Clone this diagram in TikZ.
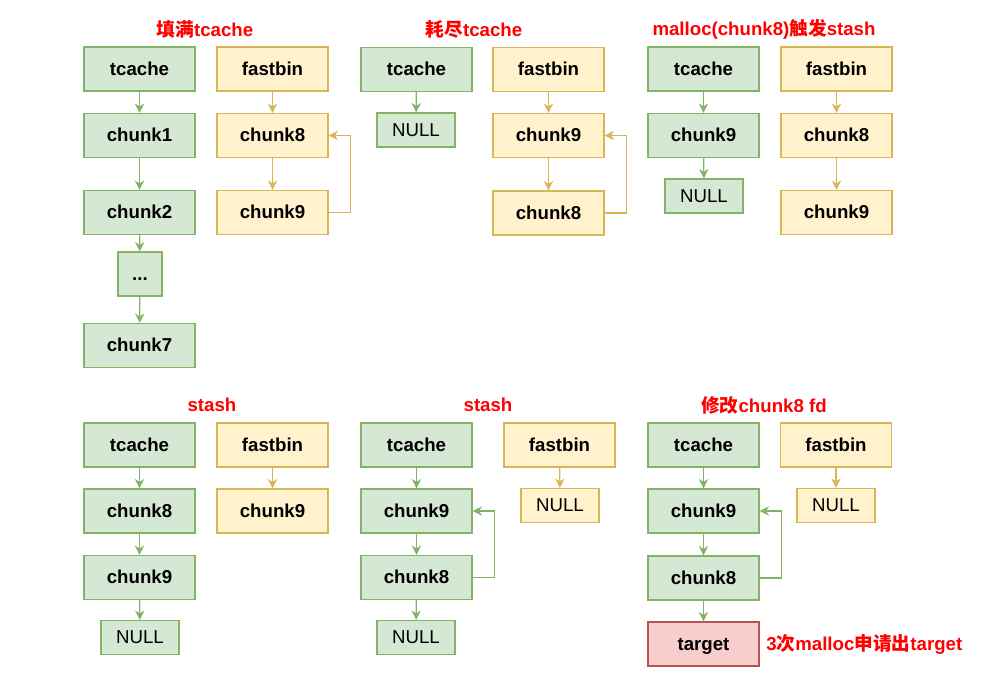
\documentclass[tikz,border=0pt]{standalone}
\usepackage{fontspec}
\setmainfont{Liberation Sans}
\newfontfamily\cjk{Noto Sans CJK SC}
\usetikzlibrary{arrows.meta}
\definecolor{gfill}{HTML}{D5E8D4}
\definecolor{gline}{HTML}{82B366}
\definecolor{yfill}{HTML}{FFF2CC}
\definecolor{yline}{HTML}{D6B656}
\definecolor{rfill}{HTML}{F8CECC}
\definecolor{rline}{HTML}{B85450}
\definecolor{ttl}{HTML}{FF0000}
\tikzset{
  box/.style={draw, line width=1pt, inner sep=0pt, minimum width=83.25pt, minimum height=33pt, text height=10pt, text depth=0.5pt, font=\fontsize{14}{16}\selectfont\bfseries},
  gbox/.style={box, fill=gfill, draw=gline},
  ybox/.style={box, fill=yfill, draw=yline},
  rbox/.style={box, fill=rfill, draw=rline},
  nullbox/.style={minimum width=58.5pt, minimum height=25.5pt, font=\fontsize{14}{16}\selectfont},
  dotbox/.style={minimum width=33pt, minimum height=33pt},
  arr/.style={line width=0.9pt, -{Stealth[length=7pt,width=7pt,inset=2.2pt]}},
  garr/.style={arr, draw=gline},
  yarr/.style={arr, draw=yline},
  title/.style={text=ttl, font=\fontsize{14}{16}\selectfont\bfseries, inner sep=0pt}
}
\begin{document}
\begin{tikzpicture}[x=0.75pt, y=-0.75pt]
\useasboundingbox (0,0) rectangle (1006,684);
% ---------- panel 1
\node[title] (T1) at (205,29) {{\cjk 填满}tcache};
\node[gbox] (p1t) at (139.5,69) {tcache};
\node[gbox] (p1c1) at (139.5,135.5) {chunk1};
\node[gbox] (p1c2) at (139.5,212.5) {chunk2};
\node[gbox, dotbox] (p1d) at (140,274) {...};
\node[gbox] (p1c7) at (139.5,345.5) {chunk7};
\node[ybox] (p1f) at (272.5,69) {fastbin};
\node[ybox] (p1f8) at (272.5,135.5) {chunk8};
\node[ybox] (p1f9) at (272.5,212.5) {chunk9};
\draw[garr] (p1t) -- (p1c1);
\draw[garr] (p1c1) -- (p1c2);
\draw[garr] (p1c2) -- (p1d);
\draw[garr] (p1d) -- (p1c7);
\draw[yarr] (p1f) -- (p1f8);
\draw[yarr] (p1f8) -- (p1f9);
\draw[yarr] (p1f9.east) -- ++(22,0) |- (p1f8.east);
% ---------- panel 2
\node[title] (T2) at (474,29) {{\cjk 耗尽}tcache};
\node[gbox] (p2t) at (416.5,69.5) {tcache};
\node[gbox, nullbox] (p2n) at (416,130) {NULL};
\node[ybox] (p2f) at (548.5,69.5) {fastbin};
\node[ybox] (p2f9) at (548.5,135.5) {chunk9};
\node[ybox] (p2f8) at (548.5,213) {chunk8};
\draw[garr] (p2t) -- (p2n);
\draw[yarr] (p2f) -- (p2f9);
\draw[yarr] (p2f9) -- (p2f8);
\draw[yarr] (p2f8.east) -- ++(22,0) |- (p2f9.east);
% ---------- panel 3
\node[title] (T3) at (764,29) {malloc(chunk8){\cjk 触发}stash};
\node[gbox] (p3t) at (703.5,69) {tcache};
\node[gbox] (p3c9) at (703.5,135.5) {chunk9};
\node[gbox, nullbox] (p3n) at (704,196) {NULL};
\node[ybox] (p3f) at (836.5,69) {fastbin};
\node[ybox] (p3f8) at (836.5,135.5) {chunk8};
\node[ybox] (p3f9) at (836.5,212.5) {chunk9};
\draw[garr] (p3t) -- (p3c9);
\draw[garr] (p3c9) -- (p3n);
\draw[yarr] (p3f) -- (p3f8);
\draw[yarr] (p3f8) -- (p3f9);
% ---------- panel 4
\node[title] (T4) at (212,405) {stash};
\node[gbox] (p4t) at (139.5,445) {tcache};
\node[gbox] (p4c8) at (139.5,511) {chunk8};
\node[gbox] (p4c9) at (139.5,577.5) {chunk9};
\node[gbox, nullbox] (p4n) at (140,637.5) {NULL};
\node[ybox] (p4f) at (272.5,445) {fastbin};
\node[ybox] (p4f9) at (272.5,511) {chunk9};
\draw[garr] (p4t) -- (p4c8);
\draw[garr] (p4c8) -- (p4c9);
\draw[garr] (p4c9) -- (p4n);
\draw[yarr] (p4f) -- (p4f9);
% ---------- panel 5
\node[title] (T5) at (488,405) {stash};
\node[gbox] (p5t) at (416.5,445) {tcache};
\node[gbox] (p5c9) at (416.5,511) {chunk9};
\node[gbox] (p5c8) at (416.5,577.5) {chunk8};
\node[gbox, nullbox] (p5n) at (416,637.5) {NULL};
\node[ybox] (p5f) at (559.5,445) {fastbin};
\node[ybox, nullbox] (p5fn) at (560,505.5) {NULL};
\draw[garr] (p5t) -- (p5c9);
\draw[garr] (p5c9) -- (p5c8);
\draw[garr] (p5c8) -- (p5n);
\draw[garr] (p5c8.east) -- ++(22,0) |- (p5c9.east);
\draw[yarr] (p5f) -- (p5fn);
% ---------- panel 6
\node[title] (T6) at (764,405) {{\cjk 修改}chunk8 fd};
\node[gbox] (p6t) at (703.5,445) {tcache};
\node[gbox] (p6c9) at (703.5,511) {chunk9};
\node[gbox] (p6c8) at (703.5,578) {chunk8};
\node[rbox] (p6tg) at (703.5,644) {target};
\node[title, anchor=west] (L6) at (766,644) {3{\cjk 次}malloc{\cjk 申请出}target};
\node[ybox] (p6f) at (836,445) {fastbin};
\node[ybox, nullbox] (p6fn) at (836,505.5) {NULL};
\draw[garr] (p6t) -- (p6c9);
\draw[garr] (p6c9) -- (p6c8);
\draw[garr] (p6c8) -- (p6tg);
\draw[garr] (p6c8.east) -- ++(22,0) |- (p6c9.east);
\draw[yarr] (p6f) -- (p6fn);
\end{tikzpicture}
\end{document}
